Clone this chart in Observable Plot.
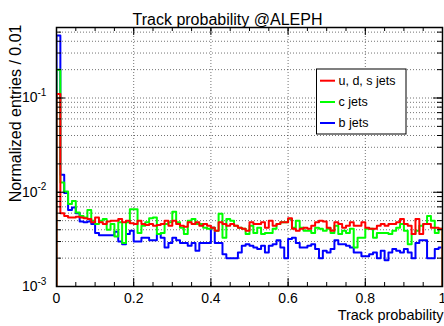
<!DOCTYPE html>
<html><head><meta charset="utf-8">
<script src="https://cdn.jsdelivr.net/npm/d3@7"></script>
<script src="https://cdn.jsdelivr.net/npm/@observablehq/plot@0.6"></script>
<style>
body{margin:0;background:#fff;}
#chart svg{font-family:"Liberation Sans",Arial,Helvetica,sans-serif;background:#fff;}
</style>
</head><body><div id="chart"></div>
<script>
const binWidth = 0.01;
const udsJets = [0.110,0.0060,0.0056,0.0054,0.0054,0.0055,0.0054,0.0053,0.0052,0.0048,
 0.0054,0.0048,0.0046,0.0049,0.0050,0.0050,0.0052,0.0048,0.0050,0.0047,
 0.0046,0.0050,0.0046,0.0045,0.0046,0.0044,0.0045,0.0046,0.0050,0.0044,
 0.0050,0.0046,0.0044,0.0043,0.0048,0.0046,0.0048,0.0044,0.0046,0.0044,
 0.0042,0.0039,0.0048,0.0046,0.0044,0.0046,0.0044,0.0042,0.0041,0.0039,
 0.0048,0.0046,0.0046,0.0048,0.0042,0.0050,0.0044,0.0046,0.0048,0.0048,
 0.0053,0.0041,0.0039,0.0041,0.0042,0.0041,0.0044,0.0048,0.0050,0.0049,
 0.0042,0.0039,0.0048,0.0046,0.0042,0.0044,0.0048,0.0044,0.0044,0.0048,
 0.0042,0.0041,0.0041,0.0044,0.0046,0.0044,0.0046,0.0046,0.0048,0.0052,
 0.0046,0.0044,0.0036,0.0052,0.0036,0.0046,0.0046,0.0042,0.0042,0.0041];
const cJets = [0.20,0.0127,0.0102,0.0075,0.0081,0.0061,0.0056,0.0054,0.0065,0.0050,
 0.0046,0.0050,0.0052,0.0040,0.0046,0.0034,0.0048,0.0029,0.0048,0.0066,
 0.0066,0.0037,0.0044,0.0048,0.0053,0.0054,0.0036,0.0037,0.0046,0.0048,
 0.0062,0.0048,0.0042,0.0036,0.0050,0.0052,0.0046,0.0046,0.0042,0.0041,
 0.0042,0.0039,0.0059,0.0033,0.0052,0.0050,0.0044,0.0042,0.0041,0.0036,
 0.0044,0.0037,0.0042,0.0036,0.0037,0.0037,0.0041,0.0046,0.0048,0.0048,
 0.0052,0.0042,0.0050,0.0042,0.0039,0.0039,0.0037,0.0042,0.0041,0.0039,
 0.0041,0.0037,0.0044,0.0036,0.0039,0.0037,0.0041,0.0026,0.0033,0.0033,
 0.0041,0.0041,0.0033,0.0037,0.0037,0.0037,0.0036,0.0039,0.0042,0.0046,
 0.0039,0.0028,0.0036,0.0039,0.0044,0.0046,0.0056,0.0050,0.0037,0.0041];
const bJets = [0.46,0.0153,0.0098,0.0065,0.0069,0.0060,0.0049,0.0048,0.0049,0.0046,
 0.0037,0.0035,0.0035,0.0035,0.0035,0.0038,0.0030,0.0028,0.0036,0.0039,
 0.0030,0.0030,0.0033,0.0033,0.0031,0.0031,0.0036,0.0033,0.0026,0.0029,
 0.0033,0.0031,0.0029,0.0029,0.0027,0.0029,0.0024,0.0029,0.0029,0.0029,
 0.0042,0.0029,0.0029,0.0022,0.0020,0.0020,0.0020,0.0023,0.0027,0.0028,
 0.0027,0.0026,0.0025,0.0027,0.0023,0.0027,0.0028,0.0031,0.0026,0.0020,
 0.0032,0.0033,0.0029,0.0026,0.0026,0.0027,0.0028,0.0025,0.0020,0.0024,
 0.0023,0.0025,0.0031,0.0028,0.0028,0.0027,0.0026,0.0023,0.0023,0.0021,
 0.0021,0.0022,0.0023,0.0020,0.0024,0.0019,0.0023,0.0025,0.0024,0.0023,
 0.0025,0.0023,0.0020,0.0029,0.0031,0.0031,0.0020,0.0020,0.0025,0.0026];
const seriesNames = ["u, d, s jets", "c jets", "b jets"];
const seriesColors = ["#ff0000", "#00ff00", "#0000ff"];
const xTicks = [0, 0.2, 0.4, 0.6, 0.8, 1];
const xMinorTicks = d3.range(0, 21).map(i => i * 0.05);
const yDecades = [0.001, 0.01, 0.1];
const yExponents = ["-3", "-2", "-1"];
const titleText = "Track probability @ALEPH";
const xLabel = "Track probability";
const yLabel = "Normalized entries / 0.01";
const yMin = 0.001, yMax = 0.56;

const W = 444, H = 326;
const mL = 56, mR = 2, mT = 27, mB = 40;
const fw = W - mL - mR, fh = H - mT - mB;

function steps(vals) {
  const pts = [{x: 0, y: yMin}];
  vals.forEach((v, i) => pts.push({x: i * binWidth, y: v}));
  pts.push({x: vals.length * binWidth, y: vals[vals.length - 1]});
  pts.push({x: vals.length * binWidth, y: yMin});
  return pts;
}
const allSeries = [udsJets, cJets, bJets];
const yMinor = [];
yDecades.forEach(d => { for (let m = 1; m <= 9; m++) { const v = m * d; if (v <= yMax && v > yMin * 1.0001) yMinor.push(v); } });

const grid = {stroke: "#000", strokeOpacity: 0.55, strokeDasharray: "1,2", strokeWidth: 1};
const drawOrder = [2, 1, 0];

const chart = Plot.plot({
  width: W, height: H,
  marginLeft: mL, marginRight: mR, marginTop: mT, marginBottom: mB,
  x: {domain: [0, 1]},
  y: {type: "log", domain: [yMin, yMax]},
  style: {fontFamily: "Liberation Sans, Arial, sans-serif", background: "#fff"},
  marks: [
    Plot.ruleX(xTicks.slice(1, -1), {...grid}),
    Plot.ruleY(yMinor, {...grid}),
    ...drawOrder.map(k => Plot.line(steps(allSeries[k]), {x: "x", y: "y", curve: "step-after", stroke: seriesColors[k], strokeWidth: 2, clip: true})),
    Plot.tickX(xMinorTicks, {x: d => d, insetTop: fh - 4, stroke: "#000"}),
    Plot.tickX(xMinorTicks, {x: d => d, insetBottom: fh - 4, stroke: "#000"}),
    Plot.tickX(xTicks, {x: d => d, insetTop: fh - 8, stroke: "#000"}),
    Plot.tickX(xTicks, {x: d => d, insetBottom: fh - 8, stroke: "#000"}),
    Plot.tickY(yMinor, {y: d => d, insetRight: fw - 5, stroke: "#000"}),
    Plot.tickY(yMinor, {y: d => d, insetLeft: fw - 5, stroke: "#000"}),
    Plot.tickY(yDecades, {y: d => d, insetRight: fw - 9, stroke: "#000"}),
    Plot.tickY(yDecades, {y: d => d, insetLeft: fw - 9, stroke: "#000"}),
    Plot.axisX(xTicks, {tickSize: 0, tickPadding: 7, fontSize: 14, tickFormat: d => d === 0 ? "0" : d === 1 ? "1" : d.toFixed(1), label: null}),
    Plot.axisY({tickSize: 0, ticks: [], label: null}),
    Plot.text(yDecades, {y: d => d, text: () => "10", frameAnchor: "left", textAnchor: "end", dx: -19, fontSize: 14}),
    Plot.text(yDecades, {y: d => d, text: (d, i) => yExponents[i], frameAnchor: "left", textAnchor: "start", dx: -19, dy: -5, fontSize: 10}),
    Plot.frame({stroke: "#000", strokeWidth: 1.5}),
    Plot.text([titleText], {text: d => d, frameAnchor: "top", dx: -22, dy: -14, fontSize: 16}),
    Plot.text([xLabel], {text: d => d, frameAnchor: "bottom-right", textAnchor: "end", dx: 1, dy: 33, fontSize: 14.5}),
    Plot.text([yLabel], {text: d => d, frameAnchor: "top-left", textAnchor: "end", rotate: -90, dx: -47, dy: -3, fontSize: 16})
  ]
});

// legend
const svg = d3.select(chart);
const lg = svg.append("g").attr("class", "legend").attr("text-anchor", "start");
lg.append("rect").attr("x", 316.5).attr("y", 69).attr("width", 89.5).attr("height", 65)
  .attr("fill", "#fff").attr("stroke", "#000").attr("stroke-width", 1);
const legendY = [80.7, 102, 123];
seriesNames.forEach((name, i) => {
  lg.append("line").attr("x1", 320).attr("x2", 335).attr("y1", legendY[i]).attr("y2", legendY[i])
    .attr("stroke", seriesColors[i]).attr("stroke-width", 2);
  lg.append("text").attr("x", 338.5).attr("y", legendY[i]).attr("dy", "0.35em")
    .attr("text-anchor", "start").attr("font-size", 12.5).attr("fill", "#000").text(name);
});
document.getElementById("chart").appendChild(chart);
</script>
</body></html>
